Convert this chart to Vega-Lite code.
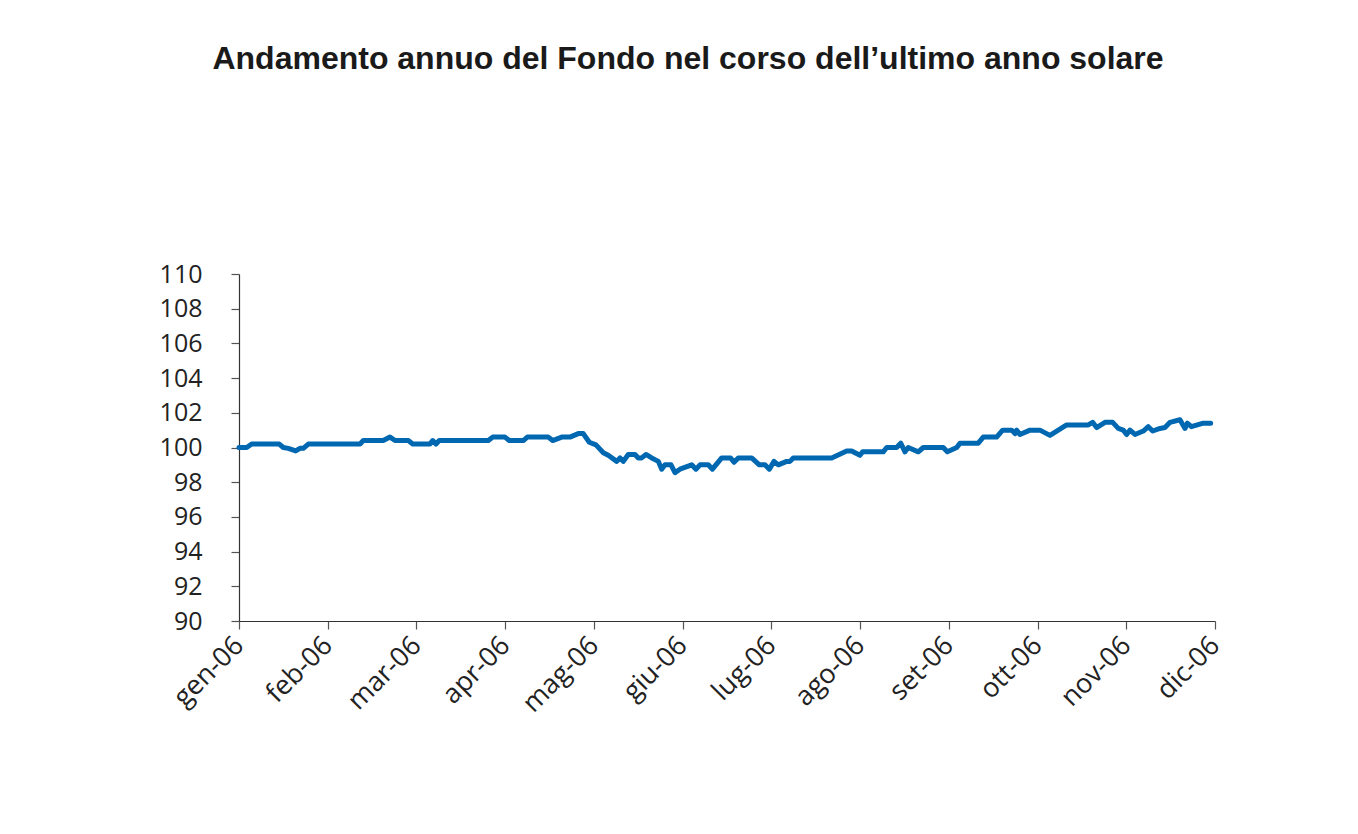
{
  "$schema": "https://vega.github.io/schema/vega-lite/v6.json",
  "autosize": "none",
  "width": 976,
  "height": 347,
  "padding": {"left": 239, "top": 274, "right": 143, "bottom": 213},
  "background": "white",
  "title": {
    "text": "Andamento annuo del Fondo nel corso dell’ultimo anno solare",
    "anchor": "middle",
    "frame": "group",
    "dx": -39,
    "offset": 186,
    "font": "Liberation Sans",
    "fontSize": 32,
    "fontWeight": "bold",
    "color": "#1a1a1a"
  },
  "config": {
    "view": {"stroke": null},
    "axis": {
      "grid": false,
      "labelFont": "Open Sans",
      "labelFontSize": 25,
      "labelColor": "#222222",
      "domainColor": "#333333",
      "domainWidth": 1.2,
      "tickColor": "#555555",
      "tickWidth": 1.2,
      "tickSize": 8
    }
  },
  "data": {
    "values": [
      {"m": 0, "v": 100.0}, {"m": 0.087, "v": 100.0}, {"m": 0.143, "v": 100.2}, {"m": 0.454, "v": 100.2},
      {"m": 0.499, "v": 100.0}, {"m": 0.556, "v": 99.95}, {"m": 0.639, "v": 99.8}, {"m": 0.687, "v": 99.95},
      {"m": 0.725, "v": 99.95}, {"m": 0.781, "v": 100.2}, {"m": 1.364, "v": 100.2}, {"m": 1.401, "v": 100.4},
      {"m": 1.626, "v": 100.4}, {"m": 1.702, "v": 100.6}, {"m": 1.758, "v": 100.4}, {"m": 1.908, "v": 100.4},
      {"m": 1.958, "v": 100.2}, {"m": 2.153, "v": 100.2}, {"m": 2.183, "v": 100.4}, {"m": 2.22, "v": 100.2},
      {"m": 2.257, "v": 100.4}, {"m": 2.81, "v": 100.4}, {"m": 2.859, "v": 100.6}, {"m": 2.998, "v": 100.6},
      {"m": 3.046, "v": 100.4}, {"m": 3.204, "v": 100.4}, {"m": 3.249, "v": 100.6}, {"m": 3.486, "v": 100.6},
      {"m": 3.535, "v": 100.4}, {"m": 3.637, "v": 100.6}, {"m": 3.73, "v": 100.6}, {"m": 3.824, "v": 100.8},
      {"m": 3.88, "v": 100.8}, {"m": 3.948, "v": 100.3}, {"m": 4.023, "v": 100.15}, {"m": 4.106, "v": 99.7},
      {"m": 4.162, "v": 99.55}, {"m": 4.257, "v": 99.2}, {"m": 4.294, "v": 99.4}, {"m": 4.331, "v": 99.2},
      {"m": 4.387, "v": 99.6}, {"m": 4.463, "v": 99.6}, {"m": 4.5, "v": 99.4}, {"m": 4.538, "v": 99.4},
      {"m": 4.587, "v": 99.6}, {"m": 4.651, "v": 99.4}, {"m": 4.726, "v": 99.2}, {"m": 4.764, "v": 98.75},
      {"m": 4.801, "v": 99.0}, {"m": 4.869, "v": 99.0}, {"m": 4.914, "v": 98.55}, {"m": 4.97, "v": 98.75},
      {"m": 5.102, "v": 99.0}, {"m": 5.15, "v": 98.75}, {"m": 5.196, "v": 99.0}, {"m": 5.289, "v": 99.0},
      {"m": 5.336, "v": 98.75}, {"m": 5.44, "v": 99.4}, {"m": 5.541, "v": 99.4}, {"m": 5.579, "v": 99.15},
      {"m": 5.627, "v": 99.4}, {"m": 5.778, "v": 99.4}, {"m": 5.864, "v": 99.0}, {"m": 5.928, "v": 99.0},
      {"m": 5.977, "v": 98.75}, {"m": 6.03, "v": 99.2}, {"m": 6.078, "v": 99.0}, {"m": 6.173, "v": 99.2},
      {"m": 6.21, "v": 99.2}, {"m": 6.247, "v": 99.4}, {"m": 6.68, "v": 99.4}, {"m": 6.849, "v": 99.8},
      {"m": 6.905, "v": 99.8}, {"m": 6.999, "v": 99.55}, {"m": 7.029, "v": 99.75}, {"m": 7.261, "v": 99.75},
      {"m": 7.3, "v": 100.0}, {"m": 7.412, "v": 100.0}, {"m": 7.458, "v": 100.25}, {"m": 7.506, "v": 99.75},
      {"m": 7.543, "v": 100.0}, {"m": 7.656, "v": 99.75}, {"m": 7.712, "v": 100.0}, {"m": 7.937, "v": 100.0},
      {"m": 7.983, "v": 99.75}, {"m": 8.089, "v": 100.0}, {"m": 8.126, "v": 100.25}, {"m": 8.332, "v": 100.25},
      {"m": 8.388, "v": 100.6}, {"m": 8.539, "v": 100.6}, {"m": 8.607, "v": 101.0}, {"m": 8.709, "v": 101.0},
      {"m": 8.746, "v": 100.8}, {"m": 8.765, "v": 101.0}, {"m": 8.802, "v": 100.75}, {"m": 8.915, "v": 101.0},
      {"m": 9.027, "v": 101.0}, {"m": 9.14, "v": 100.7}, {"m": 9.234, "v": 101.0}, {"m": 9.328, "v": 101.3},
      {"m": 9.572, "v": 101.3}, {"m": 9.621, "v": 101.45}, {"m": 9.666, "v": 101.15}, {"m": 9.76, "v": 101.45},
      {"m": 9.847, "v": 101.45}, {"m": 9.91, "v": 101.1}, {"m": 9.966, "v": 101.0}, {"m": 10.004, "v": 100.75},
      {"m": 10.042, "v": 101.0}, {"m": 10.098, "v": 100.75}, {"m": 10.192, "v": 100.95}, {"m": 10.248, "v": 101.2},
      {"m": 10.298, "v": 100.95}, {"m": 10.38, "v": 101.1}, {"m": 10.436, "v": 101.15}, {"m": 10.493, "v": 101.45},
      {"m": 10.605, "v": 101.6}, {"m": 10.662, "v": 101.1}, {"m": 10.688, "v": 101.4}, {"m": 10.734, "v": 101.2},
      {"m": 10.868, "v": 101.4}, {"m": 10.951, "v": 101.4}
    ]
  },
  "mark": {"type": "line", "color": "#0067b1", "strokeWidth": 5, "strokeJoin": "round", "strokeCap": "round"},
  "encoding": {
    "x": {
      "field": "m",
      "type": "quantitative",
      "scale": {"domain": [0, 11], "nice": false, "zero": false},
      "axis": {
        "title": null,
        "values": [0, 1, 2, 3, 4, 5, 6, 7, 8, 9, 10, 11],
        "labelExpr": "['gen-06','feb-06','mar-06','apr-06','mag-06','giu-06','lug-06','ago-06','set-06','ott-06','nov-06','dic-06'][datum.value]",
        "labelAngle": -45,
        "labelAlign": "right",
        "labelBaseline": "middle",
        "labelFontSize": 27,
        "labelPadding": 12,
        "labelFlush": false,
        "labelOverlap": false,
        "labelBound": false
      }
    },
    "y": {
      "field": "v",
      "type": "quantitative",
      "scale": {"domain": [90, 110], "nice": false, "zero": false},
      "axis": {
        "title": null,
        "values": [90, 92, 94, 96, 98, 100, 102, 104, 106, 108, 110],
        "labelPadding": 29,
        "labelFlush": false,
        "labelOverlap": false
      }
    }
  }
}
